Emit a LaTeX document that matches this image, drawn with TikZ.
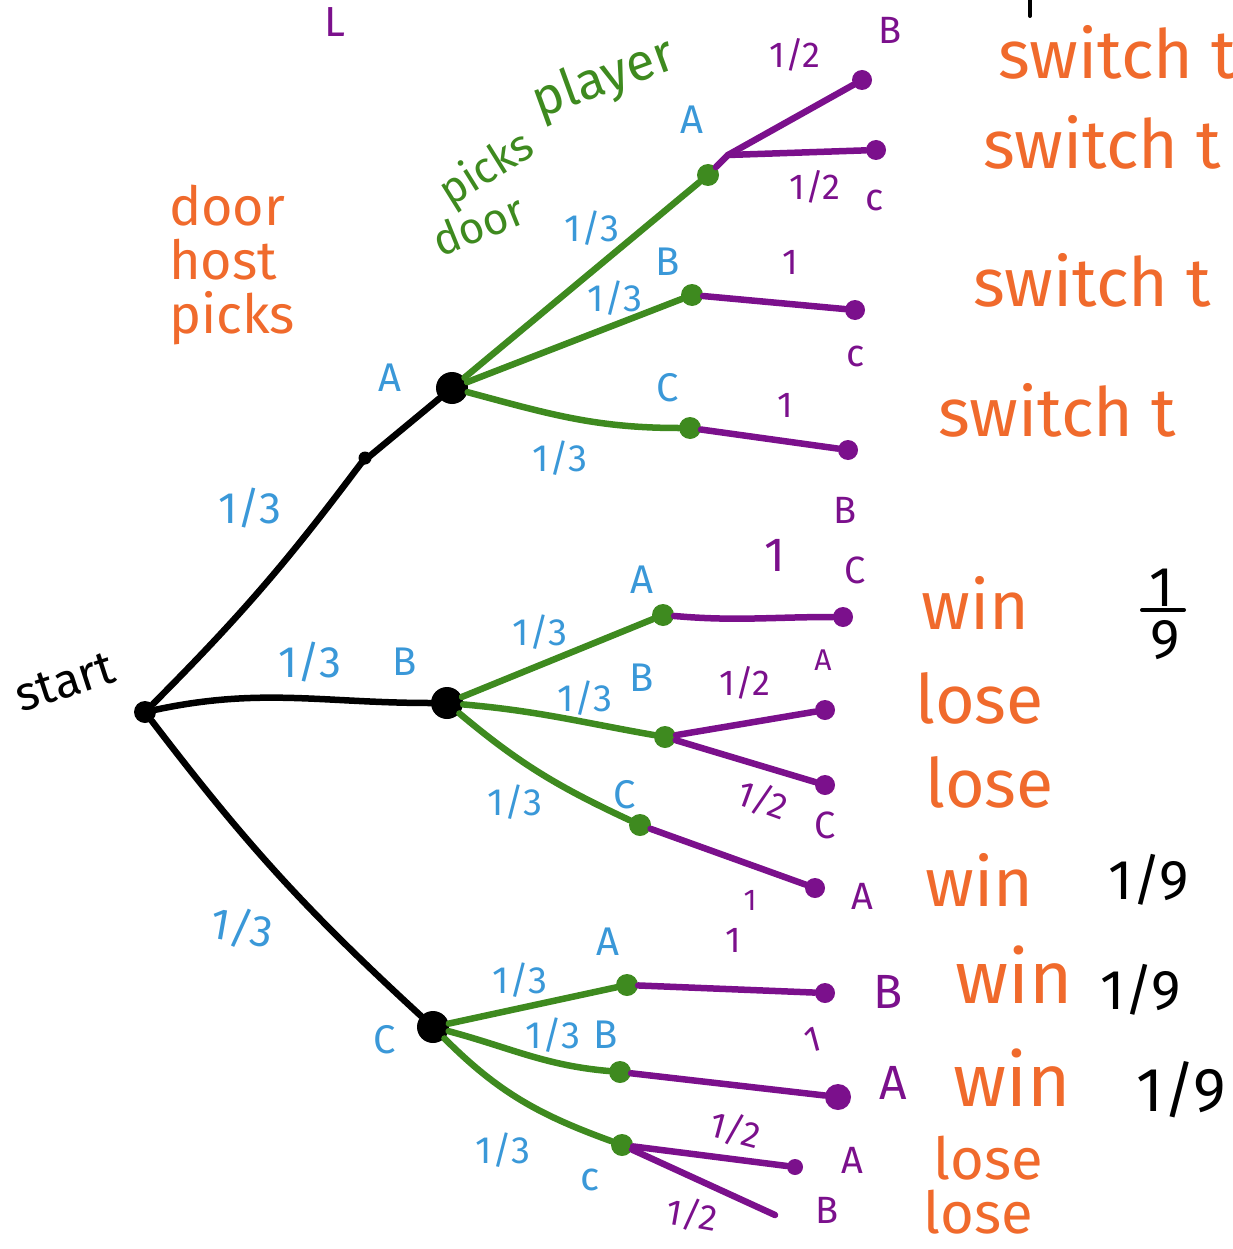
\documentclass[tikz,border=0pt]{standalone}
\usepackage{fontspec}
\setmainfont{Fira Sans}
\definecolor{blu}{HTML}{3A98D8}
\definecolor{grn}{HTML}{3E8A1F}
\definecolor{pur}{HTML}{7B108C}
\definecolor{org}{HTML}{F06A2C}
\newcommand{\fs}[1]{\fontsize{#1}{#1}\selectfont}
\begin{document}
\begin{tikzpicture}[x=1pt,y=-1pt,line cap=round,line join=round,
  kdot/.style={circle,fill=black,inner sep=0pt,minimum size=32pt},
  gdot/.style={circle,fill=grn,inner sep=0pt,minimum size=22pt},
  pdot/.style={circle,fill=pur,inner sep=0pt,minimum size=20pt},
  kline/.style={draw=black,line width=6.5pt},
  gline/.style={draw=grn,line width=6.5pt},
  pline/.style={draw=pur,line width=6.5pt},
  prob/.style={text=blu,font=\fs{44}},
  door/.style={text=blu,font=\fs{40}},
  pprob/.style={text=pur,font=\fs{36}},
  pdoor/.style={text=pur,font=\fs{38}},
  outc/.style={text=org,font=\fs{68},anchor=west},
  frac/.style={text=black,font=\fs{56}},
  note/.style={font=\fs{48}}]
\useasboundingbox (0,0) rectangle (1232,1249);
\clip (0,0) rectangle (1232,1249);
% nodes
\node[kdot,minimum size=22pt] (S) at (145,712) {};
\node[kdot] (A) at (452,388) {};
\node[kdot] (B) at (447,703) {};
\node[kdot] (C) at (433,1027) {};
\node[circle,fill=black,inner sep=0pt,minimum size=13pt] (Am) at (365,458) {};
\node[gdot] (AA) at (708,175) {};
\node[gdot] (AB) at (692,295) {};
\node[gdot] (AC) at (690,428) {};
\node[gdot] (BA) at (663,615) {};
\node[gdot] (BB) at (665,737) {};
\node[gdot] (BC) at (640,825) {};
\node[gdot] (CA) at (627,985) {};
\node[gdot] (CB) at (620,1072) {};
\node[gdot] (CC) at (622,1145) {};
\coordinate (AAs) at (728,155);
\node[pdot] (AAB) at (862,80) {};
\node[pdot] (AAC) at (876,150) {};
\node[pdot] (ABC) at (855,310) {};
\node[pdot] (ACB) at (848,450) {};
\node[pdot] (BAC) at (843,617) {};
\node[pdot] (BBA) at (825,710) {};
\node[pdot] (BBC) at (825,785) {};
\node[pdot] (BCA) at (815,888) {};
\node[pdot] (CAB) at (825,993) {};
\node[pdot,minimum size=26pt] (CBA) at (838,1097) {};
\node[pdot,minimum size=16pt] (CCA) at (795,1167) {};
\coordinate (CCB) at (775,1215);
% black edges
\draw[kline] (S) to[bend right=4] (Am) -- (A);
\draw[kline] (S) to[out=12,in=180] (B);
\draw[kline] (S) to[bend right=5] (C);
% green edges
\draw[gline] (A) -- (AA);
\draw[gline] (A) -- (AB);
\draw[gline] (A) to[out=-15,in=180] (AC);
\draw[gline] (B) -- (BA);
\draw[gline] (B) to[out=-5,in=170] (BB);
\draw[gline] (B) to[out=-40,in=155] (BC);
\draw[gline] (C) -- (CA);
\draw[gline] (C) to[out=-15,in=175] (CB);
\draw[gline] (C) to[out=-45,in=160] (CC);
% purple edges
\draw[pline] (AA) -- (AAs);
\draw[pline] (AAs) -- (AAB);
\draw[pline] (AAs) -- (AAC);
\draw[pline] (AB) -- (ABC);
\draw[pline] (AC) -- (ACB);
\draw[pline] (BA) to[out=-5,in=180] (BAC);
\draw[pline] (BB) -- (BBA);
\draw[pline] (BB) -- (BBC);
\draw[pline] (BC) -- (BCA);
\draw[pline] (CA) -- (CAB);
\draw[pline] (CB) -- (CBA);
\draw[pline] (CC) -- (CCA);
\draw[pline] (CC) -- (CCB);
% labels level 1
\node[note,rotate=18] (lstart) at (65,682) {start};
\node[prob] (l1) at (250,508) {1/3};
\node[door] (lA) at (390,378) {A};
\node[prob] (l2) at (310,662) {1/3};
\node[door] (lB) at (405,662) {B};
\node[prob,rotate=-10] (l3) at (242,928) {1/3};
\node[door] (lC) at (385,1040) {C};
% labels level 2
\node[prob,font=\fs{38}] (l4) at (592,228) {1/3};
\node[door] (lAA) at (692,120) {A};
\node[prob,font=\fs{38}] (l5) at (615,298) {1/3};
\node[door] (lAB) at (668,262) {B};
\node[prob,font=\fs{38}] (l6) at (560,458) {1/3};
\node[door] (lAC) at (668,388) {C};
\node[prob,font=\fs{38}] (l7) at (540,632) {1/3};
\node[door] (lBA) at (642,580) {A};
\node[prob,font=\fs{38}] (l8) at (585,698) {1/3};
\node[door] (lBB) at (642,678) {B};
\node[prob,font=\fs{38}] (l9) at (515,802) {1/3};
\node[door] (lBC) at (625,795) {C};
\node[prob,font=\fs{38}] (l10) at (520,980) {1/3};
\node[door] (lCA) at (608,942) {A};
\node[prob,font=\fs{38}] (l11) at (553,1035) {1/3};
\node[door] (lCB) at (606,1035) {B};
\node[prob,font=\fs{38}] (l12) at (503,1150) {1/3};
\node[door] (lCC) at (590,1180) {c};
% labels level 3
\node[pprob] (p1) at (795,55) {1/2};
\node[pdoor] (dAAB) at (890,30) {B};
\node[pprob] (p2) at (815,187) {1/2};
\node[pdoor] (dAAC) at (875,200) {c};
\node[pprob] (p3) at (790,262) {1};
\node[pdoor] (dABC) at (856,356) {c};
\node[pprob] (p4) at (785,405) {1};
\node[pdoor] (dACB) at (845,510) {B};
\node[pprob,font=\fs{48}] (p5) at (775,555) {1};
\node[pdoor] (dBAC) at (855,570) {C};
\node[pprob] (p6) at (745,683) {1/2};
\node[pdoor,font=\fs{30}] (dBBA) at (823,660) {A};
\node[pprob,rotate=-20] (p7) at (763,800) {1/2};
\node[pdoor] (dBBC) at (825,825) {C};
\node[pprob,font=\fs{30}] (p8) at (750,900) {1};
\node[pdoor] (dBCA) at (862,896) {A};
\node[pprob] (p9) at (733,940) {1};
\node[pdoor,font=\fs{48}] (dCAB) at (888,992) {B};
\node[pprob,rotate=15] (p10) at (813,1040) {1};
\node[pdoor,font=\fs{48}] (dCBA) at (893,1083) {A};
\node[pprob,rotate=-15] (p11) at (735,1130) {1/2};
\node[pdoor] (dCCA) at (852,1160) {A};
\node[pprob,rotate=-10] (p12) at (692,1215) {1/2};
\node[pdoor] (dCCB) at (827,1210) {B};
% outcomes
\node[outc] (o1) at (995,52) {switch t};
\node[outc] (o2) at (980,142) {switch t};
\node[outc] (o3) at (970,280) {switch t};
\node[outc] (o4) at (935,410) {switch t};
\node[outc] (o5) at (918,603) {win};
\node[outc] (o6) at (912,698) {lose};
\node[outc] (o7) at (922,782) {lose};
\node[outc] (o8) at (922,880) {win};
\node[outc,font=\fs{74}] (o9) at (952,975) {win};
\node[outc,font=\fs{74}] (o10) at (950,1078) {win};
\node[outc,font=\fs{58}] (o11) at (930,1158) {lose};
\node[outc,font=\fs{58}] (o12) at (920,1212) {lose};
\node[frac] (f1n) at (1162,588) {1};
\draw[line width=4pt] (1142,610) -- (1184,610);
\node[frac] (f1d) at (1165,640) {9};
\node[frac,anchor=west] (f2) at (1105,880) {1/9};
\node[frac,anchor=west] (f3) at (1097,990) {1/9};
\node[frac,anchor=west,font=\fs{62}] (f4) at (1133,1090) {1/9};
% top stray marks
\node[note,text=pur,font=\fs{42}] (top) at (335,22) {L};
\draw[line width=4pt] (1030,0) -- (1030,16);
% side notes
\node[note,text=org,align=left,font=\fs{54}] (host) at (232,265) {door\\host\\picks};
\node[note,text=grn,rotate=20,font=\fs{52}] (pl1) at (604,80) {player};
\node[note,text=grn,rotate=32,font=\fs{44}] (pl2) at (487,170) {picks};
\node[note,text=grn,rotate=22,font=\fs{44}] (pl3) at (478,225) {door};
\end{tikzpicture}
\end{document}
